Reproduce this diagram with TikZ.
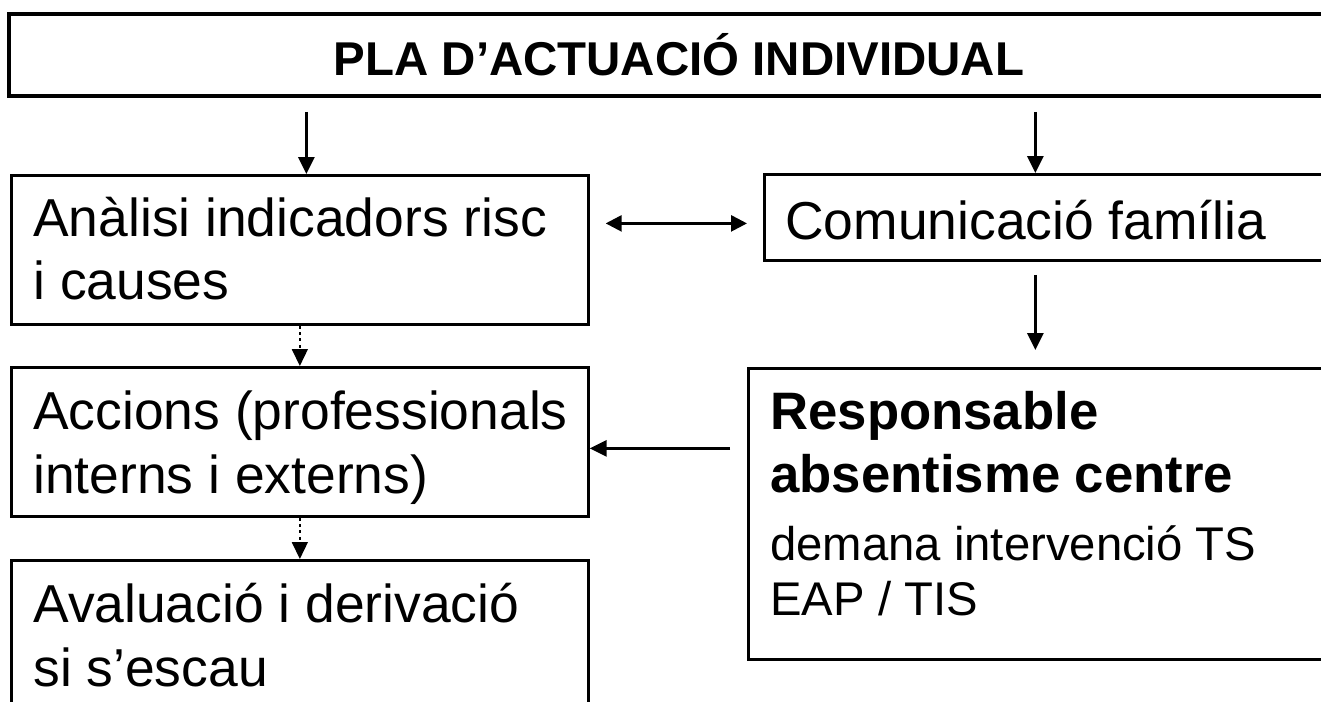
\documentclass[tikz,border=0pt]{standalone}
\usepackage{fontspec}
\setmainfont{Liberation Sans}
\usepackage{tikz}
\usetikzlibrary{positioning, arrows.meta}
\tikzset{
  box/.style={draw, line width=1.6pt, inner sep=0pt, anchor=north west},
  txt/.style={anchor=base west, align=left, inner sep=0pt,
    font=\fontsize{30.4}{35.9}\selectfont},
  flow/.style={-{Triangle[length=0.34cm, width=0.32cm]}, line width=1.6pt},
  dflow/.style={flow, dotted, line width=0.9pt},
  bflow/.style={{Triangle[length=0.32cm, width=0.32cm]}-{Triangle[length=0.32cm, width=0.32cm]}, line width=1.5pt},
}

\begin{document}
\begin{tikzpicture}[x=0.02cm, y=-0.02cm]
        \useasboundingbox (0,0) rectangle (1321,702);
        \clip (0,0) rectangle (1321,702);
        % title
        \node[box, line width=2.2pt, anchor=center, minimum width=26.8cm, minimum height=1.64cm,
          font=\fontsize{27}{32}\selectfont\bfseries] (title) at (679,55) {PLA D’ACTUACIÓ INDIVIDUAL};
        % left column (base = last line)
        \node[box, minimum width=11.54cm, minimum height=2.98cm] (ana) at (10,174) {};
        \node[box, minimum width=11.54cm, minimum height=2.98cm] (acc) at (10,366) {};
        \node[box, minimum width=11.54cm, minimum height=2.98cm] (ava) at (10,559) {};
        \node[txt] (anaT) at (33,300) {Anàlisi indicadors risc\\i causes};
        \node[txt] (accT) at (33,493) {Accions (professionals\\interns i externs)};
        \node[txt] (avaT) at (33,686) {Avaluació i derivació\\si s’escau};
        % right column
        \node[box, minimum width=12cm, minimum height=1.72cm] (com) at (763,173) {};
        \node[box, minimum width=12.4cm, minimum height=5.82cm] (resp) at (747,367) {};
        \node[txt] (comT) at (785,240) {Comunicació família};
        \node[txt, font=\fontsize{30}{35.3}\selectfont\bfseries] (respA) at (770,492) {Responsable\\absentisme centre};
        \node[txt, font=\fontsize{26.9}{31.3}\selectfont] (respB) at (770,615) {demana intervenció TS\\EAP / TIS};
        % connectors
        \draw[flow, shorten <=0.28cm] ([xshift=0.13cm]ana.north |- title.south) -- ([xshift=0.13cm]ana.north);
        \draw[flow, shorten <=0.28cm] ([xshift=-0.58cm]com.north |- title.south) -- ([xshift=-0.58cm]com.north);
        \draw[bflow, shorten <=0.32cm, shorten >=0.32cm] ([yshift=-0.12cm]com.west -| ana.east) -- ([yshift=-0.12cm]com.west);
        \draw[flow, shorten <=0.26cm, shorten >=0.34cm] ([xshift=-0.58cm]com.south) -- ([xshift=-0.58cm]com.south |- resp.north);
        \draw[flow, shorten <=0.34cm] ([yshift=-0.13cm]acc.east -| resp.west) -- ([yshift=-0.13cm]acc.east);
        \draw[dflow] (ana.south) -- (acc.north);
        \draw[dflow] (acc.south) -- (ava.north);
      \end{tikzpicture}
\end{document}
